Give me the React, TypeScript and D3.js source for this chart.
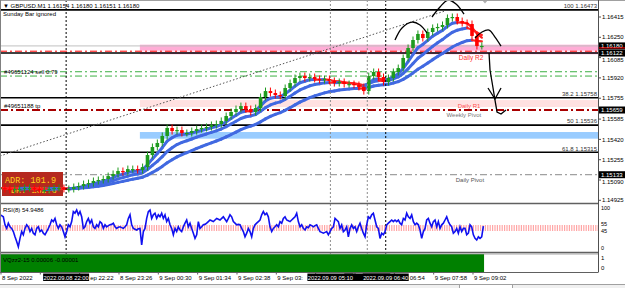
import React from 'react';
import * as d3 from 'd3';

// ---------------- data ----------------
const START = new Date(2022, 8, 8, 20, 12, 24);
const VIEW_MINUTES = 973;
const BAR_MINUTES = 8;
const RSI_STEP_MINUTES = 2.712;

const headerText = '▼ GBPUSD.M1  1.16154 1.16180 1.16151 1.16180';

const closes = [
  1.15025, 1.15017, 1.15008, 1.15017, 1.15017, 1.15025, 1.15025, 1.15017, 1.15008, 1.15008,
  1.15017, 1.15025, 1.15025, 1.15017, 1.15017, 1.15033, 1.15041, 1.15057, 1.15065, 1.15082,
  1.1509, 1.15098, 1.15122, 1.15139, 1.15163, 1.15155, 1.15179, 1.15179, 1.15171, 1.15195,
  1.15293, 1.15358, 1.15391, 1.15448, 1.15513, 1.15488, 1.15496, 1.15472, 1.15472, 1.15488,
  1.15504, 1.15513, 1.15521, 1.15537, 1.15545, 1.1557, 1.1561, 1.15643, 1.15667, 1.15691,
  1.15667, 1.15643, 1.15675, 1.15765, 1.15813, 1.15797, 1.15781, 1.15773, 1.15838, 1.15878,
  1.15919, 1.15935, 1.15919, 1.15927, 1.15911, 1.15903, 1.15911, 1.15895, 1.15878, 1.15887,
  1.1587, 1.1587, 1.15862, 1.15846, 1.15813, 1.15935, 1.15968, 1.15927, 1.15887, 1.15919,
  1.15968, 1.16, 1.16082, 1.16163, 1.16228, 1.16277, 1.16244, 1.16293, 1.16326, 1.16334,
  1.1635, 1.16407, 1.16415, 1.16382, 1.16366, 1.16358, 1.16261, 1.16179, 1.1618,
];

const maPeriods = [5, 10, 20];

const rsiValues = [
  83, 81, 78, 58, 49, 62, 53, 49, 41, 28,
  16, 3, 24, 41, 33, 49, 58, 53, 41, 49,
  37, 33, 49, 53, 41, 45, 37, 33, 41, 49,
  58, 70, 66, 74, 58, 49, 58, 53, 41, 28,
  41, 58, 53, 66, 91, 87, 95, 83, 91, 78,
  49, 53, 66, 74, 62, 70, 53, 49, 58, 53,
  66, 62, 49, 58, 53, 56, 58, 59, 62, 53,
  49, 52, 53, 51, 49, 53, 58, 74, 83, 58,
  49, 47, 45, 48, 49, 8, 41, 49, 74, 91,
  95, 74, 83, 87, 74, 83, 78, 87, 74, 83,
  66, 74, 58, 49, 33, 49, 41, 53, 45, 41,
  53, 62, 70, 53, 62, 49, 37, 24, 33, 66,
  49, 53, 58, 59, 62, 66, 70, 68, 66, 70,
  74, 72, 70, 74, 78, 72, 66, 74, 83, 78,
  66, 62, 58, 59, 58, 49, 41, 28, 37, 49,
  41, 28, 49, 58, 62, 66, 70, 83, 91, 83,
  87, 78, 53, 41, 49, 53, 58, 53, 66, 62,
  74, 78, 70, 68, 66, 70, 74, 78, 87, 66,
  53, 58, 49, 45, 53, 51,
  58, 56, 53, 56, 58, 49, 41, 39, 37, 39,
  41, 33, 41, 49, 53, 74, 70, 66, 49, 58,
  41, 45, 53, 28, 49, 58, 49, 53, 41, 53,
  62, 49, 37, 28, 58, 78, 74, 83, 87, 70,
  53, 49, 24, 37, 33, 41, 58, 62, 66, 70,
  66, 70, 66, 70, 62, 58, 74, 70, 87, 78,
  74, 83, 66, 58, 62, 58, 45, 24, 41, 49,
  70, 74, 62, 53, 66, 70, 53, 66, 49, 58,
  62, 70, 78, 66, 58, 53, 37, 41, 49, 37,
  53, 41, 49, 49, 33, 37, 58, 53, 33, 24,
  20, 28, 24, 28, 54.9486,
];
const rsiLevels = [55, 50, 45];
const rsiAxisTicks = [100, 55, 45, 0];

const vqSegments = [{ from: '2022-09-08 20:12', to: '2022-09-09 09:20', value: 1 }];
const vqAxisTicks = [1, 0];

const priceTicks = [1.16415, 1.1625, 1.16085, 1.1592, 1.15755, 1.15585, 1.1542, 1.15255, 1.1509, 1.14925];

const timeTicks = [
  '2022-09-08 20:14', '2022-09-08 21:18', '2022-09-08 22:22', '2022-09-08 23:26',
  '2022-09-09 00:30', '2022-09-09 01:34', '2022-09-09 02:38', '2022-09-09 03:42',
  '2022-09-09 04:46', '2022-09-09 05:50', '2022-09-09 06:54', '2022-09-09 07:58', '2022-09-09 09:02',
];
const timeTickLabels = [
  '8 Sep 2022', '8 Sep 21:18', '8 Sep 22:22', '8 Sep 23:26', '9 Sep 00:30', '9 Sep 01:34',
  '9 Sep 02:38', '9 Sep 03:42', '9 Sep 04:46', '9 Sep 05:50', '9 Sep 06:54', '9 Sep 07:58', '9 Sep 09:02',
];

// drawn in this order (later boxes cover earlier ones)
const markerTimes = ['2022-09-09 06:10', '2022-09-08 22:00', '2022-09-09 05:10', '2022-09-09 06:40'];
const markerShowLabel = [false, true, true, true];

const fibNames = ['100', '38.2', '50', '61.8'];
const fibPrices = [1.16473, 1.15758, 1.15536, 1.15315];

const zoneStart = '2022-09-09 00:00';
const zoneLows = [1.16112, 1.15683, 1.15426];
const zoneHighs = [1.1619, 1.1574, 1.1548];

const bidPrice = 1.1618;
const slPrice = 1.16137;
const dailyR2 = 1.16122;
const orderPrices = [1.1597, 1.15935];
const tpPrice = 1.15659;
const dailyPivot = 1.15133;
const axisBoxPrices = [1.1618, 1.16122, 1.15659, 1.15133];

const trendLine: [number, number][] = [[0, 1.15285], [724, 1.16464]];

const sketchStrokes: [number, number][][] = [
  [[642.7, 1.16228], [654.1, 1.16326], [670.4, 1.16374], [683.4, 1.1635], [694.8, 1.16285]],
  [[702.9, 1.16415], [715.9, 1.16496], [728.9, 1.16553], [742, 1.16521], [755, 1.16439]],
  [[772.9, 1.16244], [784.3, 1.16293], [795.7, 1.16309], [805.4, 1.16252], [815.2, 1.16179]],
];
const sketchArrow: [number, number][] = [
  [795.7, 1.16122], [797.3, 1.15984], [802.2, 1.15838], [805.4, 1.1574], [808.7, 1.15643], [815.2, 1.15626], [823.3, 1.15659],
];
const sketchHead: [number, number][] = [[794, 1.15838], [805.4, 1.15748], [815.2, 1.15838]];

// ---------------- helpers ----------------
const at = (m: number) => new Date(START.getTime() + m * 60000);
const parse = d3.timeParse('%Y-%m-%d %H:%M');
const fmtMarker = d3.timeFormat('%Y.%m.%d %H:%M');

function ema(values: number[], period: number) {
  const k = 2 / (period + 1);
  let prev = values[0];
  return values.map((v, i) => (i === 0 ? v : (prev = prev + k * (v - prev))));
}

const FONT = "'Liberation Sans', Arial, sans-serif";
const CHAR_W = 2.95;

export default function App() {
  const W = 625;
  const H = 288;
  const plotRight = 598;
  const rsiTop = 204, rsiBottom = 252;
  const vqTop = 254, vqBottom = 272;
  const boxHalf = 23;

  const x = d3.scaleTime().domain([START, at(VIEW_MINUTES)]).range([0, plotRight]);
  const y = d3.scaleLinear().domain([1.14925, 1.16415]).range([200.3, 17]);
  const yR = d3.scaleLinear().domain([0, 100]).range([248, 208]);
  const yV = d3.scaleLinear().domain([0, 1]).range([268, 258]);

  const barX = (i: number) => x(at(i * BAR_MINUTES));
  const mas = maPeriods.map((p) => ema(closes, p));

  const rsiLine = d3
    .line<number>()
    .x((_, i) => x(at(i * RSI_STEP_MINUTES)))
    .y((d) => yR(d));

  const sketchLine = d3
    .line<[number, number]>()
    .x((d) => x(at(d[0])))
    .y((d) => y(d[1]))
    .curve(d3.curveCatmullRom);
  const straight = d3
    .line<[number, number]>()
    .x((d) => x(at(d[0])))
    .y((d) => y(d[1]));

  const zx = x(parse(zoneStart)!);
  const dashDot = '7,3,2,3';

  const markerXs = markerTimes.map((t) => x(parse(t)!));
  const boxes = markerXs.map((cx) => [cx - boxHalf, cx + boxHalf]);

  // visible part of each time label (the marker boxes sit on top of them)
  const visibleTimeLabels = timeTicks.map((t, i) => {
    const tx = x(parse(t)!) + 1;
    const label = timeTickLabels[i];
    const end = tx + label.length * CHAR_W;
    let startX = tx;
    let text = label;
    for (const [b0, b1] of boxes) {
      if (b0 <= startX + 1 && b1 > startX) {
        const rest = Math.floor((end - b1) / CHAR_W);
        if (rest <= 2) return null;
        text = label.slice(label.length - rest);
        startX = b1 + 1;
      } else if (b0 > startX && b0 < end) {
        const keep = Math.floor((b0 - startX) / CHAR_W) - 1;
        if (keep <= 2) return null;
        text = text.slice(0, keep);
      }
    }
    return { x: startX, text };
  });

  const boxTops = axisBoxPrices.map((p) => y(p));
  const tickLabelY = (p: number) => {
    let ty = y(p);
    for (const by of boxTops) {
      if (Math.abs(ty - by) < 7 && ty > by) ty = by + 7.2;
    }
    return ty;
  };

  const hLine = (p: number, stroke: string, width: number, dash?: string, underlay?: boolean) => (
    <g>
      {underlay && <line x1={0} x2={plotRight} y1={y(p)} y2={y(p)} stroke="#fff" strokeWidth={width} />}
      <line x1={0} x2={plotRight} y1={y(p)} y2={y(p)} stroke={stroke} strokeWidth={width} strokeDasharray={dash} />
    </g>
  );

  return (
    <svg width={W} height={H} style={{ position: 'absolute', left: 0, top: 0, background: '#fff' }} fontFamily={FONT}>
      <defs>
        <clipPath id="mainClip"><rect x={0} y={0} width={plotRight} height={203} /></clipPath>
        <clipPath id="rsiClip"><rect x={0} y={rsiTop} width={plotRight} height={rsiBottom - rsiTop} /></clipPath>
      </defs>
      <rect x={0} y={0} width={W} height={H} fill="#fff" />

      <g clipPath="url(#mainClip)">
        {zoneLows.map((lo, i) => (
          <rect key={i} x={zx} width={plotRight - zx} y={y(zoneHighs[i])} height={y(lo) - y(zoneHighs[i])}
            fill={['#FFADD6', '#FFE1E1', '#99CCFF'][i]} />
        ))}
        {hLine(bidPrice, '#C0C0C0', 1)}
        {hLine(slPrice, '#FF0000', 1, dashDot, true)}
        {hLine(dailyR2, '#000', 1.6)}
        {orderPrices.map((p, i) => <g key={i}>{hLine(p, '#3CB043', 1, dashDot)}</g>)}
        {hLine(tpPrice, '#A80000', 2, '8,3,2,3', true)}
        {hLine(dailyPivot, '#8A8A8A', 1, dashDot)}
        {fibPrices.map((p, i) => <g key={i}>{hLine(p, '#000', 1.6)}</g>)}

        <path d={straight(trendLine) || ''} fill="none" stroke="#555" strokeWidth={1} strokeDasharray="1.5,2" />

        {/* ADR box */}
        <rect x={2} y={172} width={61} height={24} fill="#B5291F" />
        <text x={5} y={183} fontFamily="'Liberation Mono', monospace" fontSize={8.5} fill="#FFD21A">ADR: 101.9</text>
        <text x={11} y={193} fontFamily="'Liberation Mono', monospace" fontSize={8.5} fill="#FFD21A">DR: 132.6</text>

        {/* moving averages */}
        {mas.map((ma, k) => (
          <g key={k}>
            {ma.slice(1).map((v, j) => {
              const i = j + 1;
              const falling = v < ma[i - 1];
              return (
                <line key={i} x1={barX(i - 1)} x2={barX(i)} y1={y(ma[i - 1])} y2={y(v)}
                  stroke={falling ? '#FF2020' : '#4169E1'} strokeWidth={falling ? 2.2 : 3} strokeLinecap="round" />
              );
            })}
          </g>
        ))}

        {/* candles */}
        {closes.map((c, i) => {
          const o = i > 0 ? closes[i - 1] : c;
          const cx = barX(i);
          const top = Math.min(y(o), y(c));
          const bot = Math.max(y(o), y(c));
          const col = c >= o ? '#1E9A1E' : '#FF0000';
          return (
            <g key={i}>
              <line x1={cx} x2={cx} y1={top - 3.5} y2={bot + 3.5} stroke={col} strokeWidth={1} />
              <rect x={cx - 1.8} width={3.6} y={top} height={Math.max(1.2, bot - top)} fill={col} />
            </g>
          );
        })}

        {/* hand-drawn sketch */}
        {sketchStrokes.map((s, i) => (
          <path key={i} d={sketchLine(s) || ''} fill="none" stroke="#000" strokeWidth={1.3} />
        ))}
        <path d={straight(sketchArrow) || ''} fill="none" stroke="#000" strokeWidth={1.3} />
        <path d={straight(sketchHead) || ''} fill="none" stroke="#000" strokeWidth={1.3} />
      </g>

      {/* vertical markers */}
      {markerXs.map((mx, i) => (
        <line key={i} x1={mx} x2={mx} y1={0} y2={vqBottom}
          stroke={i % 2 === 1 ? '#000' : '#8C8C8C'} strokeWidth={1} strokeDasharray="2,2" />
      ))}

      {/* main texts */}
      <text x={3} y={7.5} fontSize={6} fill="#000">{headerText}</text>
      <text x={3} y={16} fontSize={6} fill="#000">Sunday Bar ignored</text>
      <path d="M482,0 L488,0 L485,3.5 Z" fill="#B0B0B0" />
      {fibNames.map((n, i) => (
        <text key={i} x={597} y={y(fibPrices[i]) - 1.8} fontSize={6} fill="#333" textAnchor="end">{`${n} ${fibPrices[i].toFixed(5)}`}</text>
      ))}
      <text x={4} y={y(orderPrices[0]) + 2.5} fontSize={6} fill="#000">#49651124 sell 0.79</text>
      <text x={4} y={y(tpPrice) - 2} fontSize={6} fill="#000">#49651188 tp</text>
      <text x={x(parse('2022-09-09 08:39')!)} y={y(dailyR2) + 6.5} fontSize={6.5} fill="#FF3030">Daily R2</text>
      <text x={x(parse('2022-09-09 08:19')!)} y={y(tpPrice) + 7} fontSize={6} fill="#777">Weekly Pivot</text>
      <text x={x(parse('2022-09-09 08:37')!)} y={y(tpPrice) - 2} fontSize={6} fill="#FF5050">Daily R1</text>
      <text x={x(parse('2022-09-09 08:34')!)} y={y(dailyPivot) + 7.5} fontSize={6} fill="#555">Daily Pivot</text>

      {/* RSI panel */}
      <g clipPath="url(#rsiClip)">
        {rsiLevels.map((v) => (
          <line key={v} x1={0} x2={plotRight} y1={yR(v)} y2={yR(v)} stroke="#FF2020" strokeWidth={0.8} strokeDasharray="1.2,1.2" />
        ))}
        <path d={rsiLine(rsiValues) || ''} fill="none" stroke="#1010F0" strokeWidth={1.6} />
      </g>
      <text x={3} y={212} fontSize={6} fill="#000">{`RSI(8) ${rsiValues[rsiValues.length - 1].toFixed(4)}`}</text>

      {/* VQ panel */}
      {vqSegments.map((s, i) => (
        <rect key={i} x={x(parse(s.from)!)} width={x(parse(s.to)!) - x(parse(s.from)!)} y={vqTop} height={vqBottom - vqTop} fill="#008000" />
      ))}
      <text x={3} y={262} fontSize={6} fill="#000">VQzz2-15 0.00006 -0.00001</text>

      {/* panel borders */}
      <line x1={0} x2={W} y1={0.5} y2={0.5} stroke="#A0A0A0" />
      <line x1={0} x2={plotRight} y1={203.5} y2={203.5} stroke="#606060" strokeWidth={1.5} />
      <line x1={0} x2={plotRight} y1={252.5} y2={252.5} stroke="#606060" strokeWidth={1.5} />
      <line x1={0} x2={plotRight} y1={254} y2={254} stroke="#909090" strokeWidth={0.8} />
      <line x1={0} x2={plotRight} y1={272.5} y2={272.5} stroke="#606060" strokeWidth={1.2} />
      <line x1={0.5} x2={0.5} y1={0} y2={272.5} stroke="#808080" strokeWidth={1} />
      <line x1={plotRight + 0.5} x2={plotRight + 0.5} y1={0} y2={272.5} stroke="#505050" strokeWidth={1} />

      {/* price axis */}
      {priceTicks.map((p) => (
        <g key={p}>
          <line x1={plotRight} x2={plotRight + 3} y1={y(p)} y2={y(p)} stroke="#505050" />
          <text x={602} y={tickLabelY(p)} dy="0.35em" fontSize={6} fill="#000">{p.toFixed(5)}</text>
        </g>
      ))}
      {axisBoxPrices.map((p) => (
        <g key={p}>
          <rect x={599} y={y(p) - 3.5} width={26} height={7} fill="#000" />
          <text x={601} y={y(p)} dy="0.35em" fontSize={6} fill="#fff">{p.toFixed(5)}</text>
        </g>
      ))}
      <line x1={599} x2={W} y1={y(bidPrice) + 2} y2={y(bidPrice) + 2} stroke="#FF0000" strokeWidth={1} />
      {rsiAxisTicks.map((v) => (
        <text key={v} x={601} y={yR(v) + (v === 55 ? -1.5 : v === 45 ? 1.5 : 0)} dy="0.35em" fontSize={5.5} fill="#000">{v}</text>
      ))}
      {vqAxisTicks.map((v) => (
        <text key={v} x={601} y={yV(v)} dy="0.35em" fontSize={6} fill="#000">{v}</text>
      ))}

      {/* time axis */}
      {timeTicks.map((t) => (
        <line key={t} x1={x(parse(t)!)} x2={x(parse(t)!)} y1={272.5} y2={274.5} stroke="#606060" />
      ))}
      {visibleTimeLabels.map((l, i) =>
        l ? (
          <text key={i} x={l.x} y={279.5} fontSize={6} fill="#000">{l.text}</text>
        ) : null
      )}
      {markerXs.map((cx, i) => (
        <g key={i}>
          <rect x={cx - boxHalf} y={273.5} width={boxHalf * 2} height={7.5} fill="#000" />
          {markerShowLabel[i] && (
            <text x={cx} y={279.5} fontSize={5.8} fill="#fff" textAnchor="middle">{fmtMarker(parse(markerTimes[i])!)}</text>
          )}
        </g>
      ))}

      {/* bottom tabs */}
      <line x1={0} x2={W} y1={284.5} y2={284.5} stroke="#A0A0A0" />
      <rect x={0} y={285} width={W} height={3} fill="#F0F0F0" />
      <rect x={459.5} y={284.5} width={53} height={4} fill="#fff" stroke="#A0A0A0" />
    </svg>
  );
}
